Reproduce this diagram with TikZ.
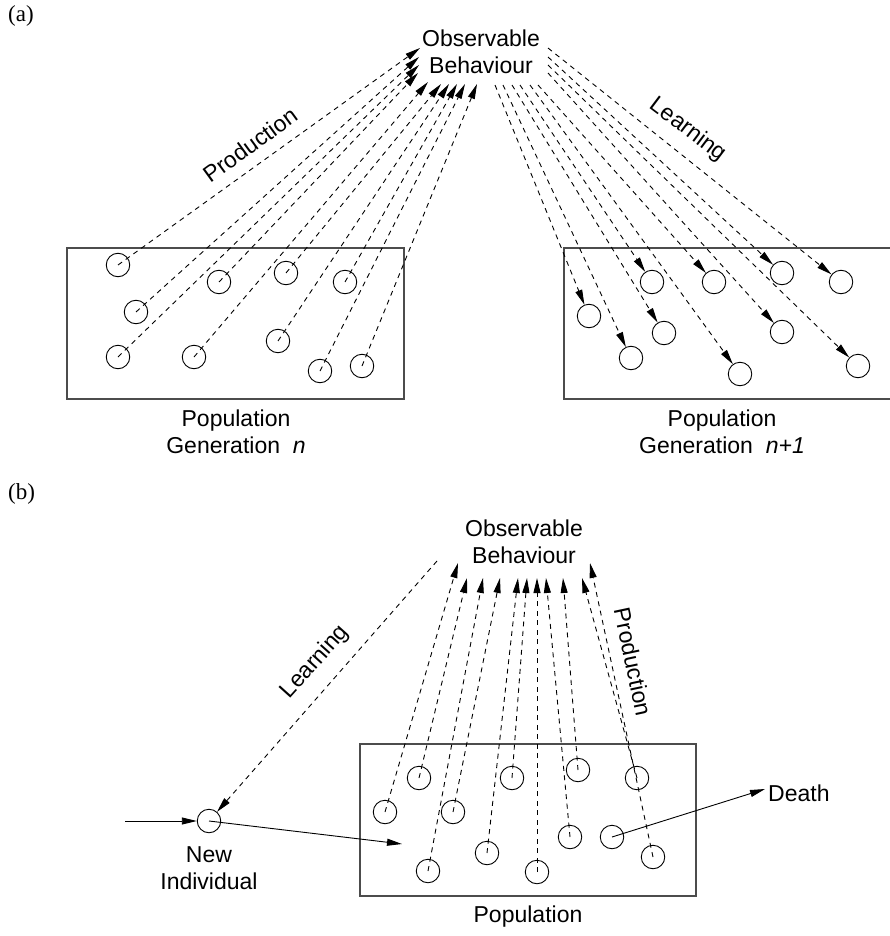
\documentclass[tikz,border=0pt]{standalone}
\usepackage{fontspec}
\setmainfont{Liberation Sans}
\newfontfamily\tagface{Liberation Serif}
\usetikzlibrary{arrows.meta}

\begin{document}
\begin{tikzpicture}[x=1pt,y=-1pt,
  indiv/.style={circle,draw,line width=0.9pt,minimum size=23.5pt,inner sep=0pt},
  flow/.style={dash pattern=on 5pt off 4.5pt,line width=0.9pt,-{Triangle[length=15pt,width=7pt]}},
  move/.style={line width=0.9pt,-{Triangle[length=15pt,width=7pt]}},
  popbox/.style={draw=black!70,line width=1.3pt},
  lbl/.style={font=\fontsize{23}{27}\selectfont,inner sep=0pt,align=center},
  tag/.style={font=\tagface\fontsize{23}{27}\selectfont,inner sep=0pt,anchor=north west}
]
\useasboundingbox (0,0) rectangle (890,936);

% ---------------- (a) generational transmission ----------------
\node[tag] (taga) at (8,5) {(a)};
\node[lbl,anchor=north] (obsA) at (481,30) {Observable\\Behaviour};

% population of generation n
\draw[popbox] (67,248) rectangle (404,399);
\node[indiv] (p1) at (118,265) {};
\node[indiv] (p2) at (136,312) {};
\node[indiv] (p3) at (118,357) {};
\node[indiv] (p4) at (219,282) {};
\node[indiv] (p5) at (194,357) {};
\node[indiv] (p6) at (286,273) {};
\node[indiv] (p7) at (278,341) {};
\node[indiv] (p8) at (345,282) {};
\node[indiv] (p9) at (320,371) {};
\node[indiv] (p10) at (362,366) {};

% production targets below the behaviour label
\coordinate (ta1) at (420,48);
\coordinate (ta2) at (419,57);
\coordinate (ta3) at (419,65);
\coordinate (ta4) at (418,73);
\coordinate (ta5) at (428,82);
\coordinate (ta6) at (441,84);
\coordinate (ta7) at (449,84);
\coordinate (ta8) at (457,84);
\coordinate (ta9) at (465,84);
\coordinate (ta10) at (477,84);
\foreach \i in {1,...,10} \draw[flow] (p\i.center) -- (ta\i);

% population of generation n+1
\draw[popbox] (892,248) -- (564,248) -- (564,399) -- (892,399);
\node[indiv] (q1) at (652,282) {};
\node[indiv] (q2) at (714,282) {};
\node[indiv] (q3) at (782,273) {};
\node[indiv] (q4) at (841,282) {};
\node[indiv] (q5) at (589,316) {};
\node[indiv] (q6) at (664,333) {};
\node[indiv] (q7) at (782,332) {};
\node[indiv] (q8) at (631,358) {};
\node[indiv] (q9) at (740,374) {};
\node[indiv] (q10) at (858,366) {};

% learning sources below the behaviour label
\coordinate (sa4) at (548,48);
\coordinate (sa3) at (548,57);
\coordinate (sa10) at (548,65);
\coordinate (sa7) at (548,73);
\coordinate (sa2) at (538,85);
\coordinate (sa9) at (530,85);
\coordinate (sa1) at (520,85);
\coordinate (sa6) at (512,85);
\coordinate (sa8) at (503,85);
\coordinate (sa5) at (495,85);
\foreach \i in {1,...,10} \draw[flow] (sa\i) -- (q\i);

\node[lbl,rotate=36] (prodA) at (250,145) {Production};
\node[lbl,rotate=-37] (learnA) at (688,130) {Learning};
\node[lbl,anchor=north] (genn) at (236,410) {Population\\Generation~~\textit{n}};
\node[lbl,anchor=north] (gennp) at (722,410) {Population\\Generation~~\textit{n+1}};

% ---------------- (b) replacement within one population ----------------
\node[tag] (tagb) at (8,483) {(b)};
\node[lbl,anchor=north] (obsB) at (524,520) {Observable\\Behaviour};

\draw[popbox] (360,744) rectangle (696,896);
\node[indiv] (ma) at (419,778) {};
\node[indiv] (mb) at (512,778) {};
\node[indiv] (mc) at (578,770) {};
\node[indiv] (md) at (637,778) {};
\node[indiv] (me) at (385,812) {};
\node[indiv] (mf) at (453,812) {};
\node[indiv] (mg) at (570,837) {};
\node[indiv] (mi) at (487,853) {};
\node[indiv] (mj) at (653,857) {};
\node[indiv] (mk) at (428,871) {};
\node[indiv] (ml) at (537,872) {};
\node[indiv] (dying) at (612,837) {};

\coordinate (te) at (458,563);
\coordinate (ta) at (467,578);
\coordinate (tk) at (483,578);
\coordinate (tf) at (500,578);
\coordinate (ti) at (518,578);
\coordinate (tb) at (527,578);
\coordinate (tl) at (537,578);
\coordinate (tg) at (546,578);
\coordinate (tc) at (563,578);
\coordinate (td) at (582,578);
\coordinate (tj) at (590,563);
\foreach \c in {a,b,c,d,e,f,g,i,j,k,l} \draw[flow] (m\c.center) -- (t\c);

% new individual entering, learning, and joining
\node[indiv] (newind) at (209,821) {};
\coordinate (inflow) at (125,821);
\coordinate (learnsrc) at (437,561);
\coordinate (joinpt) at (402,844);
\coordinate (deathpt) at (765,789);
\draw[move] (inflow) -- (newind);
\draw[flow] (learnsrc) -- (newind);
\draw[move] (newind.center) -- (joinpt);
\draw[move] (dying.center) -- (deathpt);

\node[lbl,anchor=north] (newlbl) at (209,846) {New\\Individual};
\node[lbl,anchor=base west] (deathlbl) at (768,801.7) {Death};
\node[lbl,anchor=base] (poplbl) at (528,922) {Population};
\node[lbl,rotate=48] (learnB) at (315,662) {Learning};
\node[lbl,rotate=-78] (prodB) at (633,662) {Production};
\end{tikzpicture}
\end{document}
